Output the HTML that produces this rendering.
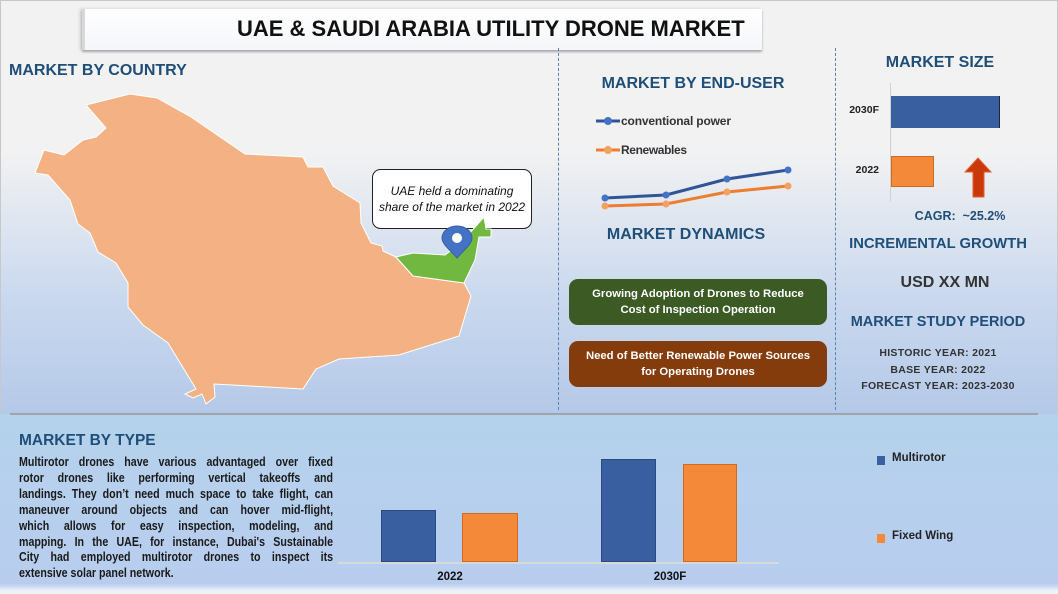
<!DOCTYPE html>
<html><head><meta charset="utf-8">
<style>
*{margin:0;padding:0;box-sizing:border-box}
body{width:1058px;height:594px;overflow:hidden;font-family:"Liberation Sans",sans-serif;position:relative;background:#b4d2ec}
.top{position:absolute;left:0;top:0;width:1058px;height:414px;background:linear-gradient(#f2f2f2 0px,#f2f2f2 150px,#c9d8ee 300px,#b4c9e8 414px);border:1px solid #c8c8c8;border-bottom:none}
.bot{position:absolute;left:0;top:414px;width:1058px;height:180px;background:linear-gradient(#b4d2ec,#b8cdee 170px,#e8eef6 176px,#f4f6fa)}
.abs{position:absolute}
.h{color:#1f4e79;font-weight:bold;white-space:nowrap}
.c{text-align:center}
.para{position:absolute;left:19px;top:454px;width:383px;transform:scaleX(0.82);transform-origin:0 0;font-weight:bold;font-size:13px;color:#1a1a1a;line-height:15.9px}
.para div{text-align:justify;text-align-last:justify;white-space:nowrap}
.para div.l{text-align-last:left}
.box{position:absolute;border-radius:9px;color:#fff;font-weight:bold;font-size:11.3px;text-align:center;line-height:16px;padding-top:7px}
</style></head><body>
<div class="top"></div>
<div class="bot"></div>
<div class="abs" style="left:82px;top:9px;width:680px;height:41px;background:linear-gradient(#fff,#f4f6f9);box-shadow:0 2px 2px #aaa, -2px 0 3px #ccc;border-left:3px solid #d8d8d8"></div>
<div class="abs c" style="left:237px;top:16px;width:506px;font-weight:bold;font-size:22px;color:#111;white-space:nowrap">UAE &amp; SAUDI ARABIA UTILITY DRONE MARKET</div>
<div class="abs" style="left:558px;top:48px;height:362px;border-left:1px dashed #5a82b4"></div>
<div class="abs" style="left:835px;top:48px;height:362px;border-left:1px dashed #5a82b4"></div>
<div class="abs" style="left:10px;top:413px;width:1028px;height:2px;background:#a0a4aa"></div>

<div class="abs h" style="left:9px;top:62px;font-size:16px">MARKET BY COUNTRY</div>
<svg class="abs" style="left:0;top:0" width="560" height="414">
<polygon fill="#f4b183" stroke="#fff" stroke-width="1" points="86,105 130,94 157,98 191,117 245,154 303,157 308,167 323,167 333,186 360,203 361,223 371,243 382,246 383,251 396,257 413,276 464,283 471,296 459,336 399,355 339,359 316,369 303,389 214,384 215,397 206,404 202,394 193,398 185,394 196,389 168,343 143,325 128,307 128,283 116,263 98,252 90,233 78,224 70,200 48,175 35,173 44,150 64,155 83,140 96,137 106,128"/>
<rect x="372.5" y="169.5" width="159" height="59" rx="8" fill="#fff" stroke="#222" stroke-width="1"/>
<text x="452" y="195" text-anchor="middle" font-size="12" font-style="italic" fill="#111" font-family="Liberation Sans, sans-serif">UAE held a dominating</text>
<text x="452" y="211" text-anchor="middle" font-size="12" font-style="italic" fill="#111" font-family="Liberation Sans, sans-serif">share of the market in 2022</text>
<polygon fill="#70b83f" stroke="#fff" stroke-width="1" points="396,257 413,253 445,255 461,243 484,217 486,229 491,229 491,237 479,237 475,260 464,283 413,276"/>
<path d="M457,258 C450,250 442,244 442,238 A15,12 0 0 1 472,238 C472,244 464,250 457,258Z" fill="#4472c4" stroke="#3b5fa8"/>
<circle cx="457" cy="238" r="5" fill="#fff"/>
</svg>

<div class="abs h c" style="left:560px;top:75px;width:266px;font-size:16px">MARKET BY END-USER</div>
<svg class="abs" style="left:560px;top:100px" width="270" height="120">
<line x1="36" y1="21" x2="60" y2="21" stroke="#2f5597" stroke-width="3"/><circle cx="48" cy="21" r="4" fill="#4472c4"/>
<line x1="36" y1="50" x2="60" y2="50" stroke="#ed7d31" stroke-width="3"/><circle cx="48" cy="50" r="4" fill="#f4a060"/>
<text x="61" y="25" font-size="12" font-weight="bold" fill="#333" font-family="Liberation Sans, sans-serif" textLength="110">conventional power</text>
<text x="61" y="54" font-size="12" font-weight="bold" fill="#333" font-family="Liberation Sans, sans-serif" textLength="66">Renewables</text>
<polyline fill="none" stroke="#2f5597" stroke-width="3" points="45,98 106,95 167,79 228,70"/>
<polyline fill="none" stroke="#ed7d31" stroke-width="3" points="45,106 106,104 167,92 228,86"/>
<g fill="#4472c4"><circle cx="45" cy="98" r="3.5"/><circle cx="106" cy="95" r="3.5"/><circle cx="167" cy="79" r="3.5"/><circle cx="228" cy="70" r="3.5"/></g>
<g fill="#f4a060"><circle cx="45" cy="106" r="3.5"/><circle cx="106" cy="104" r="3.5"/><circle cx="167" cy="92" r="3.5"/><circle cx="228" cy="86" r="3.5"/></g>
</svg>
<div class="abs h c" style="left:560px;top:226px;width:252px;font-size:16px">MARKET DYNAMICS</div>
<div class="box" style="left:569px;top:279px;width:258px;height:46px;background:#3b5a24">Growing Adoption of Drones to Reduce<br>Cost of Inspection Operation</div>
<div class="box" style="left:569px;top:341px;width:258px;height:46px;background:#843c0c">Need of Better Renewable Power Sources<br>for Operating Drones</div>

<div class="abs h c" style="left:840px;top:54px;width:200px;font-size:16px">MARKET SIZE</div>
<div class="abs" style="left:890px;top:83px;width:1px;height:118px;background:#d0d0d0"></div>
<div class="abs" style="left:891px;top:96px;width:109px;height:32px;background:#3a5fa0;border-right:1px solid #223"></div>
<div class="abs" style="left:891px;top:156px;width:43px;height:31px;background:#f5893a;border:1px solid #d06a20"></div>
<div class="abs" style="left:838px;top:104px;width:41px;text-align:right;font-size:10.5px;font-weight:bold;color:#222">2030F</div>
<div class="abs" style="left:838px;top:164px;width:41px;text-align:right;font-size:10.5px;font-weight:bold;color:#222">2022</div>
<svg class="abs" style="left:964px;top:157px" width="30" height="42"><polygon points="14,1 27,15 20,15 20,40 9,40 9,15 1,15" fill="#c8380a" stroke="#e06030"/></svg>
<div class="abs h c" style="left:880px;top:209px;width:160px;font-size:12.5px">CAGR:&nbsp; ~25.2%</div>
<div class="abs h c" style="left:838px;top:236px;width:200px;font-size:14.8px">INCREMENTAL GROWTH</div>
<div class="abs h c" style="left:845px;top:274px;width:200px;font-size:16px;color:#333">USD XX MN</div>
<div class="abs h c" style="left:838px;top:314px;width:200px;font-size:14.5px">MARKET STUDY PERIOD</div>
<div class="abs c" style="left:838px;top:345px;width:200px;font-size:10.5px;font-weight:bold;color:#333;line-height:16.5px;letter-spacing:0.3px">HISTORIC YEAR: 2021<br>BASE YEAR: 2022<br>FORECAST YEAR: 2023-2030</div>

<div class="abs h" style="left:19px;top:432px;font-size:15.5px">MARKET BY TYPE</div>
<div class="para">
<div>Multirotor drones have various advantaged over fixed</div>
<div>rotor drones like performing vertical takeoffs and</div>
<div>landings. They don’t need much space to take flight, can</div>
<div>maneuver around objects and can hover mid-flight,</div>
<div>which allows for easy inspection, modeling, and</div>
<div>mapping. In the UAE, for instance, Dubai's Sustainable</div>
<div>City had employed multirotor drones to inspect its</div>
<div class="l">extensive solar panel network.</div>
</div>
<div class="abs" style="left:338px;top:562px;width:441px;height:2px;background:#d9d9d9"></div>
<div class="abs" style="left:381px;top:510px;width:55px;height:52px;background:#3a5fa0;border:1px solid #2a4a80"></div>
<div class="abs" style="left:462px;top:513px;width:56px;height:49px;background:#f5893a;border:1px solid #d06a20"></div>
<div class="abs" style="left:601px;top:459px;width:55px;height:103px;background:#3a5fa0;border:1px solid #2a4a80"></div>
<div class="abs" style="left:683px;top:464px;width:54px;height:98px;background:#f5893a;border:1px solid #d06a20"></div>
<div class="abs c" style="left:420px;top:571px;width:60px;font-size:11.5px;font-weight:bold;color:#111">2022</div>
<div class="abs c" style="left:640px;top:571px;width:60px;font-size:11.5px;font-weight:bold;color:#111">2030F</div>
<div class="abs" style="left:877px;top:456px;width:8px;height:9px;background:#3a5fa0"></div>
<div class="abs" style="left:892px;top:452px;font-size:11.5px;font-weight:bold;color:#222">Multirotor</div>
<div class="abs" style="left:877px;top:534px;width:8px;height:9px;background:#f5893a"></div>
<div class="abs" style="left:892px;top:530px;font-size:11.5px;font-weight:bold;color:#222">Fixed Wing</div>
</body></html>
